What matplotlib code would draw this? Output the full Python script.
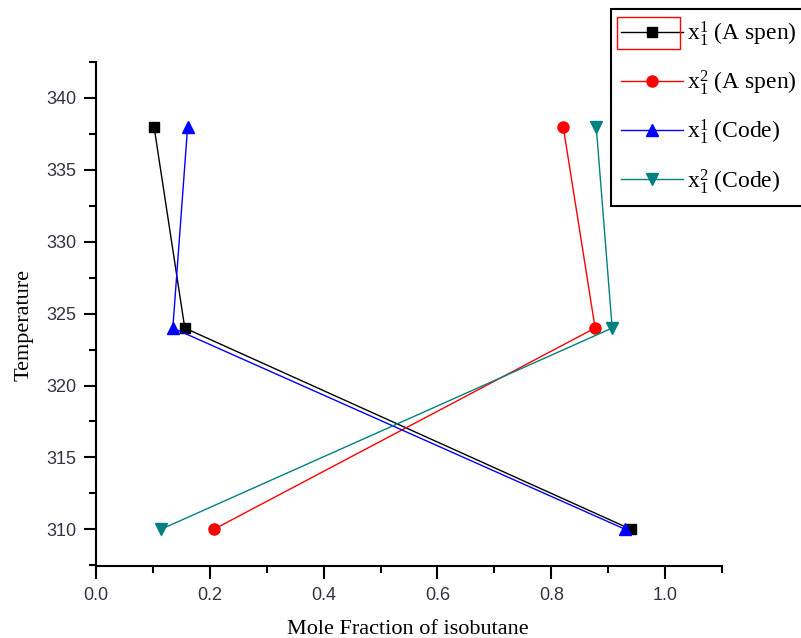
import matplotlib
matplotlib.use("Agg")
import matplotlib.pyplot as plt
from matplotlib.ticker import MultipleLocator
from matplotlib.patches import Rectangle

temperature = [338, 324, 310]
x1_aspen = [0.102, 0.156, 0.940]
x2_aspen = [0.821, 0.877, 0.207]
x1_code = [0.161, 0.135, 0.930]
x2_code = [0.879, 0.907, 0.114]
labels = [r'$\mathregular{x_1^1}$ (A spen)', r'$\mathregular{x_1^2}$ (A spen)',
          r'$\mathregular{x_1^1}$ (Code)', r'$\mathregular{x_1^2}$ (Code)']

plt.rcParams['mathtext.fontset'] = 'custom'
plt.rcParams['mathtext.rm'] = 'Liberation Serif'
plt.rcParams['mathtext.it'] = 'Liberation Serif:italic'

fig = plt.figure(figsize=(8.01, 6.38), dpi=100)
ax = fig.add_axes([96/801, 1-566/638, (722-96)/801, (566-62)/638])

ax.plot(x1_aspen, temperature, color='black', marker='s', ms=7, lw=1.0, label=labels[0])
ax.plot(x2_aspen, temperature, color='red', marker='o', ms=8, lw=1.0, label=labels[1])
ax.plot(x1_code, temperature, color='blue', marker='^', ms=8, lw=1.0, label=labels[2])
ax.plot(x2_code, temperature, color='#008080', marker='v', ms=8, lw=1.0, label=labels[3])

ax.set_xlim(0, 1.1)
ax.set_ylim(307.45, 342.5)
ax.xaxis.set_minor_locator(MultipleLocator(0.1))
ax.yaxis.set_major_locator(MultipleLocator(5))
ax.yaxis.set_minor_locator(MultipleLocator(2.5))
ax.set_xticks([0.0, 0.2, 0.4, 0.6, 0.8, 1.0])
ax.set_xticklabels(['0.0', '0.2', '0.4', '0.6', '0.8', '1.0'])
ax.spines['top'].set_visible(False)
ax.spines['right'].set_visible(False)
for s in ['left', 'bottom']:
    ax.spines[s].set_linewidth(1.5)
ax.tick_params(which='major', direction='out', length=9, width=1.5, labelsize=13,
               colors='black')
ax.tick_params(axis='x', which='major', pad=6)
ax.tick_params(axis='y', which='major', pad=5)
ax.tick_params(which='minor', direction='out', length=5, width=1.5)
for t in ax.get_xticklabels() + ax.get_yticklabels():
    t.set_fontfamily('Liberation Sans')
    t.set_color('#333344')

ax.set_xlabel('Mole Fraction of isobutane', family='Liberation Serif', fontsize=16)
ax.set_ylabel('Temperature', family='Liberation Serif', fontsize=16)
ax.xaxis.set_label_coords(0.498, -0.107)
ax.yaxis.set_label_coords(-0.100, 0.478)

leg = fig.legend(loc='upper left', bbox_to_anchor=(611/801, 1-9/638), frameon=True,
                 fancybox=False, edgecolor='black', framealpha=1,
                 prop={'family': 'Liberation Serif', 'size': 17},
                 handlelength=2.65, handletextpad=0.15, labelspacing=0.86,
                 borderpad=0.42, borderaxespad=0)
leg.get_frame().set_linewidth(1.5)
fig.patches.append(Rectangle((617/801, 1-49/638), 63/801, 32/638, transform=fig.transFigure,
                             fill=False, edgecolor='red', lw=1.0, zorder=10))

fig.savefig('out.png', dpi=100)
